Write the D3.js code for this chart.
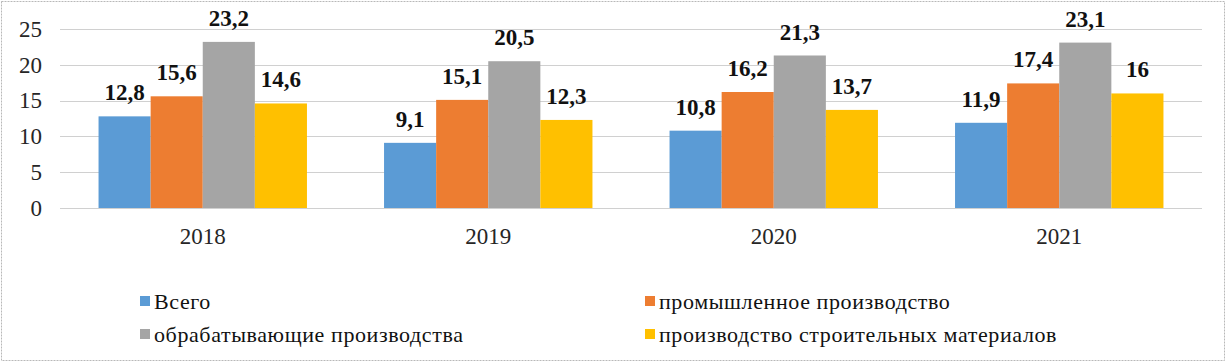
<!DOCTYPE html>
<html>
<head>
<meta charset="utf-8">
<script src="https://cdn.jsdelivr.net/npm/d3@7"></script>
</head>
<body style="margin:0">
<div id="chart"></div>
<script>
var years = ["2018", "2019", "2020", "2021"];
var seriesNames = ["Всего", "промышленное производство", "обрабатывающие производства", "производство строительных материалов"];
var seriesColors = ["#5B9BD5", "#ED7D31", "#A5A5A5", "#FFC000"];
var total = [12.8, 9.1, 10.8, 11.9];
var industrial = [15.6, 15.1, 16.2, 17.4];
var manufacturing = [23.2, 20.5, 21.3, 23.1];
var buildingMaterials = [14.6, 12.3, 13.7, 16];
var yTicks = [0, 5, 10, 15, 20, 25];

var seriesValues = [total, industrial, manufacturing, buildingMaterials];
var FONT = "Times New Roman, Liberation Serif, serif";

var totalWidth = 1230, totalHeight = 364;
var margin = { top: 29, left: 60 };
var width = 1202 - margin.left;
var height = 208 - margin.top;

var svg = d3.select('#chart').append('svg')
    .attr('width', totalWidth)
    .attr('height', totalHeight)
    .attr('font-family', FONT)
    .style('display', 'block');

// outer frame
svg.append('rect')
    .attr('x', 1.5).attr('y', 1.5)
    .attr('width', 1223).attr('height', 359)
    .attr('fill', 'none')
    .attr('stroke', '#b8b8b8')
    .attr('stroke-dasharray', '2,1');

var g = svg.append('g').attr('transform', 'translate(' + margin.left + ',' + margin.top + ')');

var yScale = d3.scaleLinear().domain([0, 25]).range([height, 0]);
var xScale = d3.scaleBand().domain(years).range([0, width]).paddingInner(0.27).paddingOuter(0.135);
var xInner = d3.scaleBand().domain(d3.range(seriesNames.length)).range([0, xScale.bandwidth()]);

// gridlines
g.selectAll('.grid')
    .data(yTicks)
    .enter().append('line')
    .attr('x1', 0).attr('x2', width)
    .attr('y1', d => Math.round(yScale(d)) + 0.5)
    .attr('y2', d => Math.round(yScale(d)) + 0.5)
    .attr('stroke', '#d0d0d0');

// y axis
var yAxis = d3.axisLeft(yScale).tickValues(yTicks).tickSize(0).tickPadding(18);
var yAxisGroup = g.append('g').call(yAxis)
    .attr('font-family', FONT).attr('font-size', 23);
yAxisGroup.select('.domain').remove();
yAxisGroup.selectAll('text').attr('fill', '#262626');

// x axis
var xAxis = d3.axisBottom(xScale).tickSize(0).tickPadding(20);
var xAxisGroup = g.append('g').attr('transform', `translate(0, ${height})`).call(xAxis)
    .attr('font-family', FONT).attr('font-size', 23);
xAxisGroup.select('.domain').remove();
xAxisGroup.selectAll('text').attr('fill', '#262626');

var groups = g.selectAll('.year')
    .data(years)
    .enter().append('g')
    .attr('transform', d => 'translate(' + xScale(d) + ',0)');

groups.selectAll('rect')
    .data((d, i) => seriesValues.map((s, k) => ({ k: k, v: s[i] })))
    .enter().append('rect')
    .attr('x', d => xInner(d.k))
    .attr('y', d => yScale(d.v))
    .attr('width', xInner.bandwidth())
    .attr('height', d => height - yScale(d.v))
    .attr('fill', d => seriesColors[d.k]);

groups.selectAll('.lbl')
    .data((d, i) => seriesValues.map((s, k) => ({ k: k, v: s[i] })))
    .enter().append('text')
    .attr('x', d => xInner(d.k) + xInner.bandwidth() / 2)
    .attr('y', d => yScale(d.v) - 16)
    .attr('text-anchor', 'middle')
    .attr('font-size', 23)
    .attr('font-weight', 'bold')
    .attr('fill', '#111')
    .text(d => String(d.v).replace('.', ','));

// legend
var legendPos = [[140, 301], [645, 301], [140, 334], [645, 334]];
var legend = svg.selectAll('.legend')
    .data([0, 1, 2, 3])
    .enter().append('g')
    .attr('transform', (d, i) => 'translate(' + legendPos[i][0] + ',' + legendPos[i][1] + ')');
legend.append('rect')
    .attr('x', 0).attr('y', -5)
    .attr('width', 10).attr('height', 10)
    .attr('fill', d => seriesColors[d]);
legend.append('text')
    .attr('x', 14).attr('y', 0)
    .attr('dy', '0.35em')
    .attr('font-size', 22)
    .attr('letter-spacing', 0.6)
    .attr('fill', '#111')
    .text(d => seriesNames[d]);
</script>
</body>
</html>
